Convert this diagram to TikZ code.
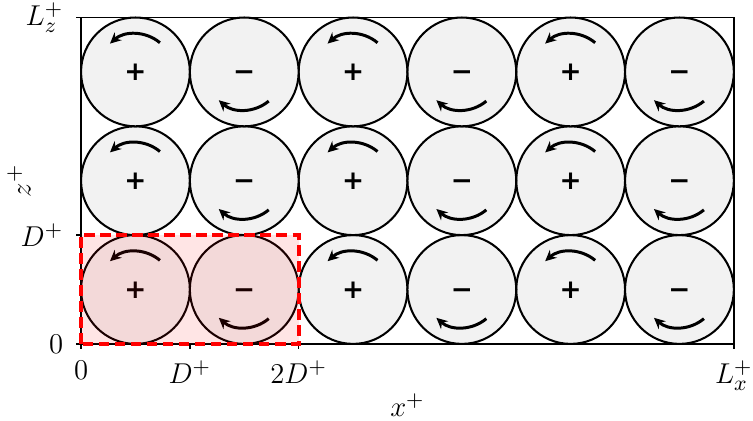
\documentclass[tikz,border=0pt]{standalone}
\usepackage{fontspec}
\newfontfamily\signfont{DejaVu Sans}
\usetikzlibrary{arrows.meta}
\definecolor{Roller}{HTML}{F2F2F2}
\definecolor{Unit}{HTML}{FF0000}

\begin{document}
\begin{tikzpicture}[
  x=1.6cm,y=1.6cm,
  roll/.style={circle,draw=black,line width=0.85pt,fill=Roller,minimum size=1.6cm,inner sep=0pt,text height=0.72em,text depth=0pt,font=\signfont\bfseries\fontsize{11}{11}\selectfont},
  spin/.style={-{Stealth[length=4.6pt,width=4.4pt]},line width=1.25pt},
  axis/.style={line width=0.65pt},
  unitbox/.style={draw=Unit,fill=Unit,fill opacity=0.1,line width=1.6pt,dash pattern=on 4.5pt off 2.2pt},
  ticklab/.style={inner sep=0pt,font=\fontsize{13}{15}\selectfont}
]
\useasboundingbox (-0.745,-0.70) rectangle (6.176,3.161);
\foreach \i in {0,2,4}
  \foreach \j in {0,1,2} {
    \node[roll] (p\i\j) at (\i+0.5,\j+0.5) {+};
    \draw[spin] (p\i\j.center) ++(50:0.56cm) arc[start angle=50,end angle=132,radius=0.56cm];
  }
\foreach \i in {1,3,5}
  \foreach \j in {0,1,2} {
    \node[roll] (m\i\j) at (\i+0.5,\j+0.5) {−};
    \draw[spin] (m\i\j.center) ++(-50:0.56cm) arc[start angle=-50,end angle=-132,radius=0.56cm];
  }
\draw[axis] (0,0) rectangle (6,3);
\foreach \xx/\lab in {0/0,1/D^+,2/2D^+,6/L_x^+} {
  \draw[axis] (\xx,0) -- (\xx,-0.045);
  \node[ticklab,anchor=north] (xt\xx) at (\xx,-0.15) {$\lab$};
}
\foreach \yy/\lab in {0/0,1/D^+,3/L_z^+} {
  \draw[axis] (0,\yy) -- (-0.045,\yy);
  \node[ticklab,anchor=east] (yt\yy) at (-0.16,\yy) {$\lab$};
}
\node[ticklab] (xlab) at (3,-0.56) {$x^+$};
\node[ticklab,rotate=90] (zlab) at (-0.57,1.5) {$z^+$};
\draw[unitbox] (0,0) rectangle (2,1);
\end{tikzpicture}
\end{document}
